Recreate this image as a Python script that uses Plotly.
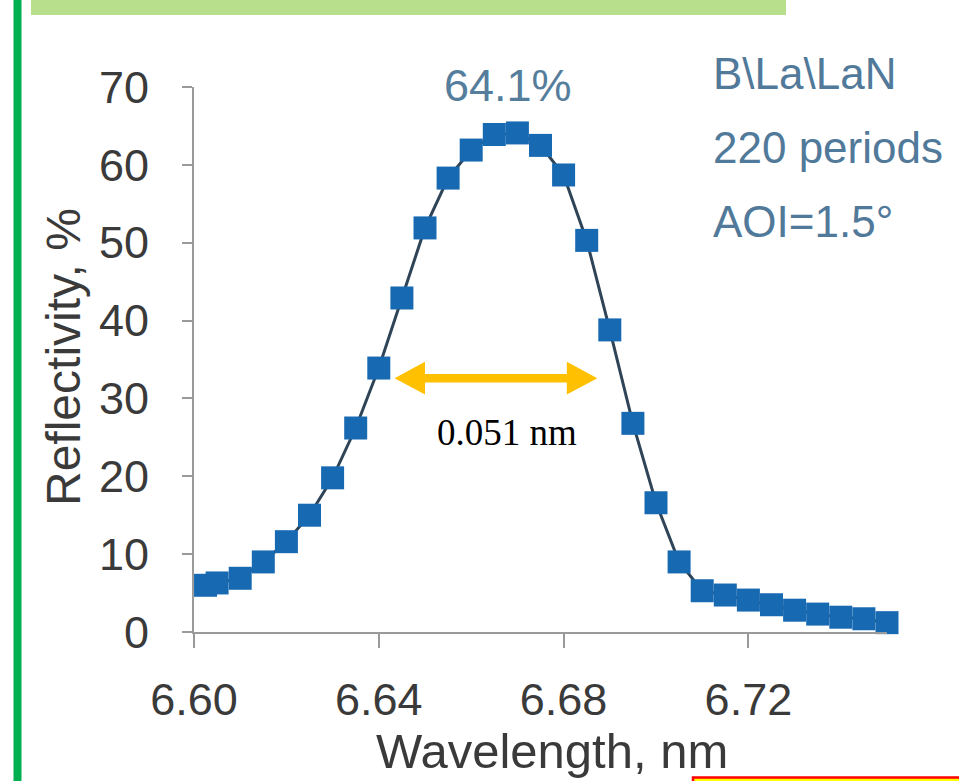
import plotly.graph_objects as go

# ---- data ----
wavelength_nm = [6.6025, 6.605, 6.610, 6.615, 6.620, 6.625, 6.630, 6.635, 6.640, 6.645,
                 6.650, 6.655, 6.660, 6.665, 6.670, 6.675, 6.680, 6.685, 6.690, 6.695,
                 6.700, 6.705, 6.710, 6.715, 6.720, 6.725, 6.730, 6.735, 6.740, 6.745, 6.750]
reflectivity_pct = [6.0, 6.3, 6.9, 9.0, 11.6, 15.0, 19.8, 26.2, 33.9, 42.9,
                    51.9, 58.3, 61.9, 63.9, 64.1, 62.5, 58.7, 50.3, 38.8, 26.8,
                    16.6, 9.0, 5.3, 4.75, 4.1, 3.5, 2.8, 2.3, 1.9, 1.7, 1.2]
x_ticks = [6.60, 6.64, 6.68, 6.72]
x_tick_labels = ["6.60", "6.64", "6.68", "6.72"]
y_ticks = [0, 10, 20, 30, 40, 50, 60, 70]
peak_label = "64.1%"
info_lines = ["B\\La\\LaN", "220 periods", "AOI=1.5°"]
fwhm_label = "0.051 nm"
fwhm_x = [6.6434, 6.6873]
fwhm_y = 32.6

# ---- layout geometry ----
W, H = 959, 781
L, R, T, B = 194, 72, 87, 149
PW, PH = W - L - R, H - T - B


def px(xp):
    return (xp - L) / PW


def py(yp):
    return (H - B - yp) / PH


fig = go.Figure()
fig.add_trace(go.Scatter(
    x=wavelength_nm, y=reflectivity_pct, mode="lines+markers",
    line=dict(color="#2f4557", width=3),
    marker=dict(symbol="square", size=23, color="#1769b2",
                line=dict(width=0)),
    cliponaxis=False, showlegend=False,
))

# double-headed orange arrow (FWHM marker) in data units
x0, x1 = fwhm_x
head_len = 0.0066
head_hw = 2.1
shaft_hw = 0.55
yc = fwhm_y
path = (f"M {x0},{yc} L {x0+head_len},{yc+head_hw} L {x0+head_len},{yc+shaft_hw} "
        f"L {x1-head_len},{yc+shaft_hw} L {x1-head_len},{yc+head_hw} L {x1},{yc} "
        f"L {x1-head_len},{yc-head_hw} L {x1-head_len},{yc-shaft_hw} "
        f"L {x0+head_len},{yc-shaft_hw} L {x0+head_len},{yc-head_hw} Z")

shapes = [
    dict(type="path", path=path, xref="x", yref="y", fillcolor="#FFC000",
         line=dict(width=0), layer="above"),
    # slide decorations
    dict(type="rect", xref="paper", yref="paper", x0=px(13.5), x1=px(21.5),
         y0=py(800), y1=py(-10), fillcolor="#00b050", line=dict(width=0)),
    dict(type="rect", xref="paper", yref="paper", x0=px(31), x1=px(786),
         y0=py(15), y1=py(-10), fillcolor="#b8e08c", line=dict(width=0)),
    dict(type="rect", xref="paper", yref="paper", x0=px(693), x1=px(970),
         y0=py(795), y1=py(777.5), fillcolor="#ffff00",
         line=dict(color="#ff0000", width=2.5)),
]

txt_font = "Liberation Sans, Arial, sans-serif"
annotations = [
    dict(text=peak_label, x=px(508), y=py(85), xref="paper", yref="paper",
         showarrow=False, xanchor="center", yanchor="middle",
         font=dict(family=txt_font, size=45, color="#557d9c")),
    dict(text=fwhm_label, x=px(507), y=py(433), xref="paper", yref="paper",
         showarrow=False, xanchor="center", yanchor="middle",
         font=dict(family="Liberation Serif, Times New Roman, serif", size=37,
                   color="#000000")),
    dict(text="Reflectivity, %", x=px(63), y=py(357), xref="paper", yref="paper",
         showarrow=False, textangle=-90, xanchor="center", yanchor="middle",
         font=dict(family=txt_font, size=48, color="#3a3a3a")),
    dict(text="Wavelength, nm", x=px(552), y=py(751), xref="paper", yref="paper",
         showarrow=False, xanchor="center", yanchor="middle",
         font=dict(family=txt_font, size=49, color="#3a3a3a")),
]
for line_txt, yc_px in zip(info_lines, [73, 147, 222]):
    annotations.append(dict(text=line_txt, x=px(711), y=py(yc_px),
                            xref="paper", yref="paper", showarrow=False,
                            xanchor="left", yanchor="middle",
                            font=dict(family=txt_font, size=44, color="#51799a")))

fig.update_layout(
    width=W, height=H,
    margin=dict(l=L, r=R, t=T, b=B, pad=0),
    paper_bgcolor="white", plot_bgcolor="white",
    shapes=shapes, annotations=annotations,
    xaxis=dict(range=[6.60, 6.75], tickvals=x_ticks, ticktext=x_tick_labels,
               showgrid=False, zeroline=False, showline=True,
               linecolor="#9a9a9a", linewidth=2, ticks="outside", ticklen=14,
               tickwidth=2, tickcolor="#9a9a9a", ticklabelstandoff=13,
               tickfont=dict(family=txt_font, size=45, color="#3a3a3a")),
    yaxis=dict(range=[0, 70], tickvals=y_ticks, showgrid=False,
               zeroline=False, showline=True, linecolor="#9a9a9a",
               linewidth=2, ticks="outside", ticklen=10, tickwidth=2,
               tickcolor="#9a9a9a", ticklabelstandoff=24,
               tickfont=dict(family=txt_font, size=45, color="#3a3a3a")),
)

fig.write_html("out.html", config={"displayModeBar": False},
               post_script="document.body.style.margin='0';document.body.style.overflow='hidden';")
